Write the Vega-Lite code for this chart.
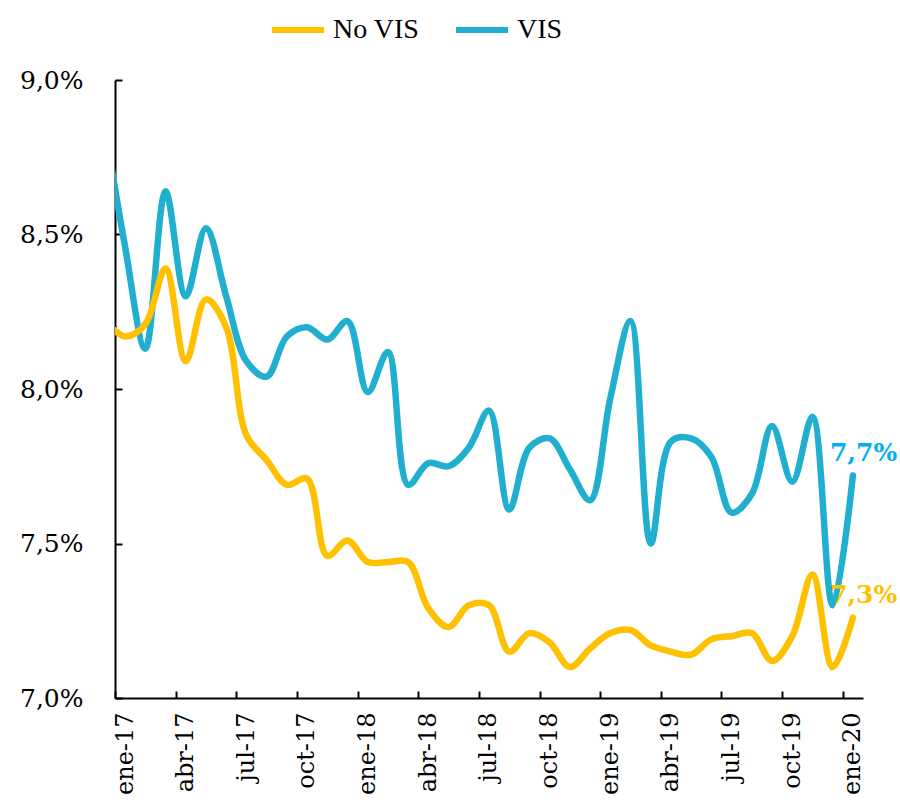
{
  "$schema": "https://vega.github.io/schema/vega-lite/v6.json",
  "width": 748,
  "height": 618,
  "autosize": {"type": "none"},
  "padding": {"left": 115, "top": 80, "right": 37, "bottom": 105},
  "background": "white",
  "config": {
    "view": {"stroke": null},
    "locale": {"number": {"decimal": ",", "thousands": ".", "grouping": [3], "currency": ["", " €"]}}
  },
  "data": {"values": [
    {"mes":"dic-16","t":-1,"serie":"VIS","valor":0.0885},
    {"mes":"ene-17","t":0,"serie":"VIS","valor":0.0846},
    {"mes":"feb-17","t":1,"serie":"VIS","valor":0.0813},
    {"mes":"mar-17","t":2,"serie":"VIS","valor":0.0864},
    {"mes":"abr-17","t":3,"serie":"VIS","valor":0.0830},
    {"mes":"may-17","t":4,"serie":"VIS","valor":0.0852},
    {"mes":"jun-17","t":5,"serie":"VIS","valor":0.0830},
    {"mes":"jul-17","t":6,"serie":"VIS","valor":0.0809},
    {"mes":"ago-17","t":7,"serie":"VIS","valor":0.0804},
    {"mes":"sep-17","t":8,"serie":"VIS","valor":0.0817},
    {"mes":"oct-17","t":9,"serie":"VIS","valor":0.0820},
    {"mes":"nov-17","t":10,"serie":"VIS","valor":0.0816},
    {"mes":"dic-17","t":11,"serie":"VIS","valor":0.0822},
    {"mes":"ene-18","t":12,"serie":"VIS","valor":0.0799},
    {"mes":"feb-18","t":13,"serie":"VIS","valor":0.0812},
    {"mes":"mar-18","t":14,"serie":"VIS","valor":0.0769},
    {"mes":"abr-18","t":15,"serie":"VIS","valor":0.0776},
    {"mes":"may-18","t":16,"serie":"VIS","valor":0.0775},
    {"mes":"jun-18","t":17,"serie":"VIS","valor":0.0781},
    {"mes":"jul-18","t":18,"serie":"VIS","valor":0.0793},
    {"mes":"ago-18","t":19,"serie":"VIS","valor":0.0761},
    {"mes":"sep-18","t":20,"serie":"VIS","valor":0.0781},
    {"mes":"oct-18","t":21,"serie":"VIS","valor":0.0784},
    {"mes":"nov-18","t":22,"serie":"VIS","valor":0.0774},
    {"mes":"dic-18","t":23,"serie":"VIS","valor":0.0764},
    {"mes":"ene-19","t":24,"serie":"VIS","valor":0.0797},
    {"mes":"feb-19","t":25,"serie":"VIS","valor":0.0822},
    {"mes":"mar-19","t":26,"serie":"VIS","valor":0.0750},
    {"mes":"abr-19","t":27,"serie":"VIS","valor":0.0783},
    {"mes":"may-19","t":28,"serie":"VIS","valor":0.0784},
    {"mes":"jun-19","t":29,"serie":"VIS","valor":0.0778},
    {"mes":"jul-19","t":30,"serie":"VIS","valor":0.0760},
    {"mes":"ago-19","t":31,"serie":"VIS","valor":0.0766},
    {"mes":"sep-19","t":32,"serie":"VIS","valor":0.0788},
    {"mes":"oct-19","t":33,"serie":"VIS","valor":0.0770},
    {"mes":"nov-19","t":34,"serie":"VIS","valor":0.0791},
    {"mes":"dic-19","t":35,"serie":"VIS","valor":0.0730},
    {"mes":"ene-20","t":36,"serie":"VIS","valor":0.0772},
    {"mes":"dic-16","t":-1,"serie":"No VIS","valor":0.0822},
    {"mes":"ene-17","t":0,"serie":"No VIS","valor":0.0817},
    {"mes":"feb-17","t":1,"serie":"No VIS","valor":0.0821},
    {"mes":"mar-17","t":2,"serie":"No VIS","valor":0.0839},
    {"mes":"abr-17","t":3,"serie":"No VIS","valor":0.0809},
    {"mes":"may-17","t":4,"serie":"No VIS","valor":0.0829},
    {"mes":"jun-17","t":5,"serie":"No VIS","valor":0.0820},
    {"mes":"jul-17","t":6,"serie":"No VIS","valor":0.0785},
    {"mes":"ago-17","t":7,"serie":"No VIS","valor":0.0777},
    {"mes":"sep-17","t":8,"serie":"No VIS","valor":0.0769},
    {"mes":"oct-17","t":9,"serie":"No VIS","valor":0.0771},
    {"mes":"nov-17","t":10,"serie":"No VIS","valor":0.0746},
    {"mes":"dic-17","t":11,"serie":"No VIS","valor":0.0751},
    {"mes":"ene-18","t":12,"serie":"No VIS","valor":0.0744},
    {"mes":"feb-18","t":13,"serie":"No VIS","valor":0.0744},
    {"mes":"mar-18","t":14,"serie":"No VIS","valor":0.0744},
    {"mes":"abr-18","t":15,"serie":"No VIS","valor":0.0729},
    {"mes":"may-18","t":16,"serie":"No VIS","valor":0.0723},
    {"mes":"jun-18","t":17,"serie":"No VIS","valor":0.0730},
    {"mes":"jul-18","t":18,"serie":"No VIS","valor":0.0730},
    {"mes":"ago-18","t":19,"serie":"No VIS","valor":0.0715},
    {"mes":"sep-18","t":20,"serie":"No VIS","valor":0.0721},
    {"mes":"oct-18","t":21,"serie":"No VIS","valor":0.0718},
    {"mes":"nov-18","t":22,"serie":"No VIS","valor":0.0710},
    {"mes":"dic-18","t":23,"serie":"No VIS","valor":0.0716},
    {"mes":"ene-19","t":24,"serie":"No VIS","valor":0.0721},
    {"mes":"feb-19","t":25,"serie":"No VIS","valor":0.0722},
    {"mes":"mar-19","t":26,"serie":"No VIS","valor":0.0717},
    {"mes":"abr-19","t":27,"serie":"No VIS","valor":0.0715},
    {"mes":"may-19","t":28,"serie":"No VIS","valor":0.0714},
    {"mes":"jun-19","t":29,"serie":"No VIS","valor":0.0719},
    {"mes":"jul-19","t":30,"serie":"No VIS","valor":0.0720},
    {"mes":"ago-19","t":31,"serie":"No VIS","valor":0.0721},
    {"mes":"sep-19","t":32,"serie":"No VIS","valor":0.0712},
    {"mes":"oct-19","t":33,"serie":"No VIS","valor":0.0720},
    {"mes":"nov-19","t":34,"serie":"No VIS","valor":0.0740},
    {"mes":"dic-19","t":35,"serie":"No VIS","valor":0.0710},
    {"mes":"ene-20","t":36,"serie":"No VIS","valor":0.0726}
  ]},
  "layer": [
    {
      "mark": {"type": "line", "interpolate": "catmull-rom", "strokeWidth": 6.5, "strokeCap": "round", "clip": true},
      "encoding": {
        "x": {
          "field": "t", "type": "quantitative",
          "scale": {"domain": [-0.5, 36.5], "nice": false, "zero": false},
          "axis": {
            "title": null, "grid": false,
            "values": [-0.5, 2.5, 5.5, 8.5, 11.5, 14.5, 17.5, 20.5, 23.5, 26.5, 29.5, 32.5, 35.5],
            "labelExpr": "['ene','abr','jul','oct'][round((datum.value+0.5)/3)%4] + '-' + (17 + floor(round((datum.value+0.5)/3)/4))",
            "labelAngle": -90, "labelOffset": 10, "labelPadding": 21,
            "labelFont": "DejaVu Serif", "labelFontSize": 24, "labelColor": "#000000",
            "labelOverlap": false, "labelFlush": false,
            "domainColor": "#000000", "domainWidth": 2,
            "tickColor": "#000000", "tickWidth": 2, "tickSize": -7
          }
        },
        "y": {
          "field": "valor", "type": "quantitative",
          "scale": {"domain": [0.07, 0.09], "nice": false, "zero": false},
          "axis": {
            "title": null, "grid": false,
            "values": [0.07, 0.075, 0.08, 0.085, 0.09],
            "format": ".1%",
            "labelFont": "DejaVu Serif", "labelFontSize": 25, "labelColor": "#000000",
            "labelPadding": 39, "labelFlush": false,
            "domainColor": "#000000", "domainWidth": 2,
            "tickColor": "#000000", "tickWidth": 2, "tickSize": -7
          }
        },
        "color": {
          "field": "serie", "type": "nominal",
          "scale": {"domain": ["No VIS", "VIS"], "range": ["#FFC000", "#21AFD0"]},
          "legend": {
            "title": null, "orient": "none", "legendX": 154, "legendY": -79,
            "direction": "horizontal",
            "symbolType": "stroke", "symbolSize": 2700, "symbolStrokeWidth": 6,
            "labelFont": "Liberation Serif", "labelFontSize": 28, "labelColor": "#000000",
            "labelOffset": 6, "columnPadding": 24
          }
        }
      }
    },
    {
      "transform": [{"filter": "datum.t == 36"}],
      "mark": {"type": "text", "align": "left", "baseline": "middle", "dx": -23, "dy": -23,
               "font": "DejaVu Serif", "fontSize": 25, "fontWeight": "bold"},
      "encoding": {
        "x": {"field": "t", "type": "quantitative"},
        "y": {"field": "valor", "type": "quantitative"},
        "text": {"field": "valor", "type": "quantitative", "format": ".1%"},
        "color": {"condition": {"test": "datum.serie == 'VIS'", "value": "#00B0F0"}, "value": "#FFC000"}
      }
    }
  ]
}
